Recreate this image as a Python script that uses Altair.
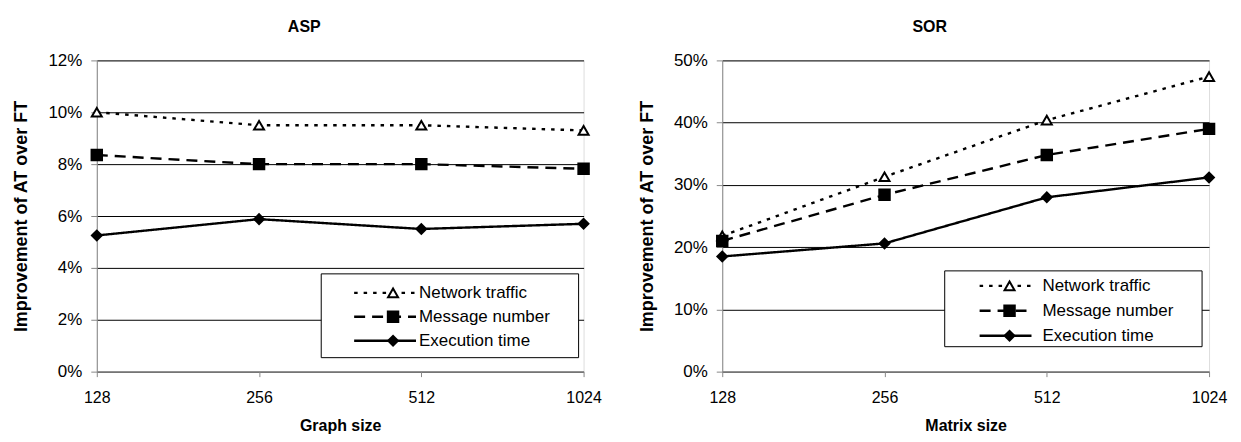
import altair as alt
import pandas as pd

sizes = ["128", "256", "512", "1024"]
series = ["Network traffic", "Message number", "Execution time"]

asp_network = [10.0, 9.5, 9.5, 9.3]
asp_message = [8.35, 8.0, 8.0, 7.82]
asp_exec = [5.25, 5.88, 5.5, 5.7]

sor_network = [21.8, 31.3, 40.4, 47.4]
sor_message = [21.0, 28.4, 34.8, 39.0]
sor_exec = [18.5, 20.6, 28.0, 31.2]

FONT = "Liberation Sans"
dashes = [[3.5, 6], [11, 7], [1, 0]]
shapes = ["triangle-up", "square", "diamond"]
fills = ["white", "black", "black"]
sizes_mk = [100, 110, 95]


def panel(title, xtitle, ymax, ystep, net, msg, exe, box):
    rows = []
    for name, vals in zip(series, [net, msg, exe]):
        for s, v in zip(sizes, vals):
            rows.append({"size": s, "value": v, "series": name})
    df = pd.DataFrame(rows)

    x = alt.X("size:O", sort=sizes, scale=alt.Scale(type="point", padding=0),
              axis=alt.Axis(title=xtitle, labelAngle=0, grid=False, tickSize=5,
                            labelPadding=13, titlePadding=12, labelFontSize=16,
                            titleFontSize=16, titleFontWeight="bold"))
    y = alt.Y("value:Q", scale=alt.Scale(domain=[0, ymax], nice=False),
              axis=alt.Axis(title="Improvement of AT over FT",
                            values=list(range(0, ymax + 1, ystep)),
                            labelExpr="datum.value + '%'", grid=True,
                            gridColor="black", gridWidth=1, tickSize=6,
                            labelPadding=9, titlePadding=17, labelFontSize=17,
                            titleFontSize=18, titleFontWeight="bold"))

    base = alt.Chart(df)
    lines = base.mark_line(color="black", strokeWidth=2.4).encode(
        x=x, y=y,
        strokeDash=alt.StrokeDash("series:N", scale=alt.Scale(domain=series, range=dashes), legend=None),
        detail="series:N",
    )
    layers = [lines]
    for i, name in enumerate(series):
        pts = base.transform_filter(alt.datum.series == name).mark_point(
            shape=shapes[i], size=sizes_mk[i], fill=fills[i], stroke="black",
            strokeWidth=2, filled=False, fillOpacity=1, opacity=1,
        ).encode(x=x, y=y)
        layers.append(pts)

    one = pd.DataFrame({"k": [0]})
    bx0, bx1, by0, by1, ry, lx0, lx1, mx, tx = box
    layers.append(alt.Chart(one).mark_rect(fill="white", stroke="black", strokeWidth=1).encode(
        x=alt.value(bx0), x2=alt.value(bx1), y=alt.value(by0), y2=alt.value(by1)))
    for i, name in enumerate(series):
        layers.append(alt.Chart(one).mark_rule(color="black", strokeWidth=2.4, strokeDash=dashes[i]).encode(
            x=alt.value(lx0), x2=alt.value(lx1), y=alt.value(ry[i])))
        layers.append(alt.Chart(one).mark_point(
            shape=shapes[i], size=sizes_mk[i], fill=fills[i], stroke="black",
            strokeWidth=2, filled=False, fillOpacity=1, opacity=1).encode(
            x=alt.value(mx), y=alt.value(ry[i])))
        layers.append(alt.Chart(one).mark_text(align="left", baseline="middle", fontSize=17,
                                               font=FONT, color="black").encode(
            x=alt.value(tx), y=alt.value(ry[i]), text=alt.value(name)))

    return alt.layer(*layers).properties(
        width=488, height=312,
        title=alt.TitleParams(title, fontSize=16, fontWeight="bold", font=FONT,
                              anchor="middle", offset=16, dx=-36),
    )


left = panel("ASP", "Graph size", 12, 2, asp_network, asp_message, asp_exec,
             (225, 483, 214, 298, [233, 257, 281], 258, 320, 297, 323))
right = panel("SOR", "Matrix size", 50, 10, sor_network, sor_message, sor_exec,
              (223, 481, 211, 287, [226, 251, 276], 258, 310, 288, 321))

chart = alt.hconcat(left, right, spacing=35).properties(
    padding={"left": 4, "right": 5, "top": 10, "bottom": 0}
).configure_view(
    stroke="black", strokeWidth=1
).configure_axis(
    domainColor="black", tickColor="black", labelColor="black", titleColor="black",
    labelFont=FONT, titleFont=FONT,
).configure(background="white")

chart.save("out.html", embed_options={"renderer": "svg", "actions": False})
